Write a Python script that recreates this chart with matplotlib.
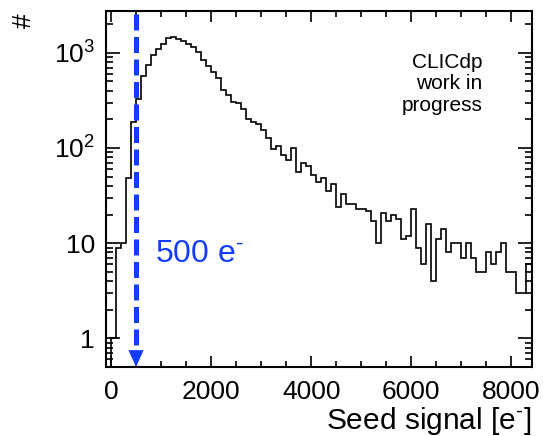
import numpy as np
import matplotlib
matplotlib.use("Agg")
import matplotlib.pyplot as plt
from matplotlib.ticker import FixedLocator, MultipleLocator, LogLocator, NullFormatter

plt.rcParams['font.family'] = ['Liberation Sans', 'DejaVu Sans']
plt.rcParams['mathtext.fontset'] = 'custom'
plt.rcParams['mathtext.rm'] = 'Liberation Sans'
plt.rcParams['mathtext.it'] = 'Liberation Sans:italic'

# histogram: 100 e- bins from -100 to 8400
BIN_EDGES = np.arange(-100, 8401, 100)
COUNTS = [
    0, 1, 9, 10, 48, 187, 330, 565, 750, 955,              # -100 .. 800
    1087, 1225, 1430, 1450, 1400, 1327, 1246, 1148, 1017, 850,  # 900 .. 1800
    720, 635, 540, 410, 363, 304, 297, 259, 200, 187,     # 1900 .. 2800
    180, 153, 127, 97, 105, 85, 75, 100, 56, 70,          # 2900 .. 3800
    64, 52, 44, 48, 35, 42, 24, 33, 26, 26,               # 3900 .. 4800
    23, 23, 22, 17, 10, 21, 17, 20, 18, 11,               # 4900 .. 5800
    12, 23, 9, 6, 16, 4, 11, 14, 8, 10,                   # 5900 .. 6800
    10, 7, 10, 7, 5, 5, 8, 6, 8, 10,                      # 6900 .. 7800
    5, 5, 3, 3, 6,                                        # 7900 .. 8300
]
THRESHOLD = 500
THRESHOLD_LABEL = '500 e$^{\u2010}$'

Y_TICKS = [1, 10, 100, 1000]
Y_TICK_LABELS = ['1', '10', r'$\mathregular{10^{2}}$', r'$\mathregular{10^{3}}$']
X_LABEL = 'Seed signal [e$^{\u2010}$]'
Y_LABEL = '#'
NOTE = 'CLICdp\nwork in\nprogress'

BLUE = '#143cff'

fig = plt.figure(figsize=(5.43, 4.36), dpi=100)
ax = fig.add_axes([106/543, 69/436, 425.5/543, 356/436])

ax.stairs(COUNTS, BIN_EDGES, baseline=None, color='black', lw=1.2)

ax.set_yscale('log')
ax.set_xlim(-100, 8400)
ax.set_ylim(0.5, 2750)

# ticks, ROOT style: inside, on all four sides
ax.xaxis.set_major_locator(MultipleLocator(2000))
ax.xaxis.set_minor_locator(MultipleLocator(500))
ax.yaxis.set_major_locator(FixedLocator(Y_TICKS))
ax.set_yticklabels(Y_TICK_LABELS)
ax.yaxis.set_minor_locator(LogLocator(base=10, subs=np.arange(2, 10)))
ax.yaxis.set_minor_formatter(NullFormatter())
ax.tick_params(which='both', direction='in', top=True, right=True, width=1.2, labelsize=19)
ax.tick_params(axis='x', which='major', length=8, pad=9)
ax.tick_params(axis='x', which='minor', length=4)
ax.tick_params(axis='y', which='major', length=10, pad=8)
ax.tick_params(axis='y', which='minor', length=5)
for s in ax.spines.values():
    s.set_linewidth(1.5)

ax.set_xlabel(X_LABEL, fontsize=21.5, loc='right', labelpad=1)
fig.text(24/543, 1 - 21/436, Y_LABEL, fontsize=19, rotation=90, ha='center', va='center')

# threshold arrow
ylo, yhi = ax.get_ylim()
head = ylo * 10**(17/95.3)
ax.plot([THRESHOLD, THRESHOLD], [yhi * 0.93, head], color=BLUE, lw=3.6,
        dashes=(3.2, 1.3), solid_capstyle='butt', dash_capstyle='butt')
ax.annotate('', xy=(THRESHOLD, ylo), xytext=(THRESHOLD, head * 1.05),
            arrowprops=dict(arrowstyle='-|>,head_width=0.27,head_length=0.6',
                            mutation_scale=20, color=BLUE, lw=0.1,
                            shrinkA=0, shrinkB=0))
ax.text(THRESHOLD + 380, 6.3, THRESHOLD_LABEL, color=BLUE, fontsize=23,
        ha='left', va='baseline')

ax.text(0.885, 0.795, NOTE, transform=ax.transAxes, fontsize=15,
        ha='right', va='center', multialignment='right', linespacing=1.15)

fig.savefig('out.png', dpi=100)
